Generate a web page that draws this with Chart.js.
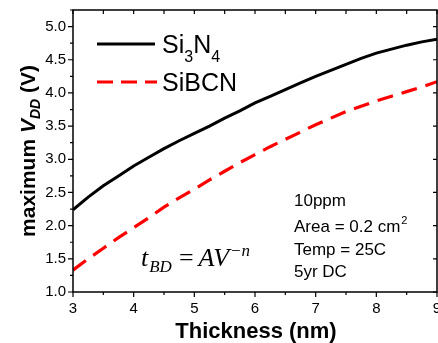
<!DOCTYPE html>
<html>
<head>
<meta charset="utf-8">
<script src="https://cdn.jsdelivr.net/npm/chart.js@4.4.1/dist/chart.umd.min.js"></script>
<style>
    html, body { margin: 0; padding: 0; background: #fff; }
    #wrap { width: 438px; height: 343px; }
</style>
</head>
<body>
<div id="wrap"><canvas id="vddChart" width="438" height="343"></canvas></div>
<script>
// Espesor (nm) y tensión máxima
const thickness = [3.0, 3.25, 3.5, 3.75, 4.0, 4.25, 4.5, 4.75, 5.0, 5.25, 5.5, 5.75, 6.0,
    6.25, 6.5, 6.75, 7.0, 7.25, 7.5, 7.75, 8.0, 8.25, 8.5, 8.75, 9.0];
const vddSi3N4 = [2.24, 2.43, 2.60, 2.75, 2.90, 3.03, 3.16, 3.28, 3.39, 3.50, 3.62, 3.73, 3.85,
    3.95, 4.05, 4.15, 4.25, 4.34, 4.43, 4.52, 4.60, 4.66, 4.72, 4.77, 4.81];
const vddSiBCN = [1.33, 1.50, 1.66, 1.82, 1.97, 2.12, 2.28, 2.42, 2.55, 2.69, 2.82, 2.95, 3.07,
    3.19, 3.30, 3.41, 3.52, 3.62, 3.72, 3.80, 3.88, 3.95, 4.02, 4.09, 4.17];

const xTicks = [3, 4, 5, 6, 7, 8, 9];
const xMinorTicks = [3.5, 4.5, 5.5, 6.5, 7.5, 8.5];
const yTicks = [1.0, 1.5, 2.0, 2.5, 3.0, 3.5, 4.0, 4.5, 5.0];
const yMinorTicks = [1.25, 1.75, 2.25, 2.75, 3.25, 3.75, 4.25, 4.75, 5.25];

const SANS = '"Liberation Sans", Arial, sans-serif';
const SERIF = '"Liberation Serif", "Times New Roman", serif';

function toPoints(xs, ys) {
    return xs.map((x, i) => ({ x: x, y: ys[i] }));
}

// Marco, marcas de los ejes y textos
const framePlugin = {
    id: 'frame',
    afterDraw(chart) {
        const ctx = chart.ctx;
        const area = chart.chartArea;
        const xs = chart.scales.x;
        const ys = chart.scales.y;

        ctx.save();
        ctx.strokeStyle = '#000';
        ctx.lineWidth = 1.5;
        ctx.strokeRect(area.left, area.top, area.right - area.left, area.bottom - area.top);

        ctx.lineWidth = 1.2;
        ctx.beginPath();
        xTicks.forEach(v => {
            const px = xs.getPixelForValue(v);
            ctx.moveTo(px, area.bottom); ctx.lineTo(px, area.bottom + 5);
        });
        xMinorTicks.forEach(v => {
            const px = xs.getPixelForValue(v);
            ctx.moveTo(px, area.bottom); ctx.lineTo(px, area.bottom + 3);
        });
        xTicks.concat(xMinorTicks).forEach(v => {
            const px = xs.getPixelForValue(v);
            ctx.moveTo(px, area.top); ctx.lineTo(px, area.top + 4);
        });
        yTicks.forEach(v => {
            const py = ys.getPixelForValue(v);
            ctx.moveTo(area.left, py); ctx.lineTo(area.left - 5, py);
            ctx.moveTo(area.right, py); ctx.lineTo(area.right - 4, py);
        });
        yMinorTicks.forEach(v => {
            const py = ys.getPixelForValue(v);
            ctx.moveTo(area.left, py); ctx.lineTo(area.left - 3, py);
        });
        ctx.stroke();

        // Etiquetas de los ejes
        ctx.fillStyle = '#000';
        ctx.font = '15px ' + SANS;
        ctx.textAlign = 'center';
        ctx.textBaseline = 'alphabetic';
        xTicks.forEach(v => {
            ctx.fillText(String(v), xs.getPixelForValue(v), area.bottom + 21);
        });
        ctx.textAlign = 'right';
        ctx.textBaseline = 'middle';
        yTicks.forEach(v => {
            ctx.fillText(v.toFixed(1), area.left - 7, ys.getPixelForValue(v));
        });

        // Título eje X
        ctx.font = 'bold 22px ' + SANS;
        ctx.textAlign = 'center';
        ctx.textBaseline = 'alphabetic';
        ctx.fillText('Thickness (nm)', (area.left + area.right) / 2 + 1, 338);

        // Título eje Y (girado)
        ctx.save();
        ctx.translate(35, 151);
        ctx.rotate(-Math.PI / 2);
        const parts = [
            { t: 'maximum ', f: 'bold 21px ' + SANS, dy: 0 },
            { t: 'V', f: 'italic bold 21px ' + SANS, dy: 0 },
            { t: 'DD', f: 'italic bold 14px ' + SANS, dy: 5 },
            { t: ' (V)', f: 'bold 21px ' + SANS, dy: 0 }
        ];
        let total = 0;
        parts.forEach(p => { ctx.font = p.f; p.w = ctx.measureText(p.t).width; total += p.w; });
        let cx = -total / 2;
        ctx.textAlign = 'left';
        parts.forEach(p => { ctx.font = p.f; ctx.fillText(p.t, cx, p.dy); cx += p.w; });
        ctx.restore();

        // Leyenda
        ctx.lineWidth = 3;
        ctx.strokeStyle = '#000';
        ctx.beginPath(); ctx.moveTo(97, 44); ctx.lineTo(155, 44); ctx.stroke();
        ctx.strokeStyle = '#ff0000';
        ctx.setLineDash([16, 8]);
        ctx.beginPath(); ctx.moveTo(97, 82); ctx.lineTo(157, 82); ctx.stroke();
        ctx.setLineDash([]);

        ctx.textAlign = 'left';
        let lx = 162;
        const legendParts = [
            { t: 'Si', f: '25px ' + SANS, y: 53 },
            { t: '3', f: '16px ' + SANS, y: 62 },
            { t: 'N', f: '25px ' + SANS, y: 53 },
            { t: '4', f: '16px ' + SANS, y: 62 }
        ];
        legendParts.forEach(p => {
            ctx.font = p.f; ctx.fillText(p.t, lx, p.y); lx += ctx.measureText(p.t).width;
        });
        ctx.font = '25px ' + SANS;
        ctx.fillText('SiBCN', 162, 91);

        // Condiciones
        ctx.font = '17px ' + SANS;
        ctx.fillText('10ppm', 294, 206);
        ctx.fillText('Area = 0.2 cm', 294, 232);
        const aw = ctx.measureText('Area = 0.2 cm').width;
        ctx.font = '11px ' + SANS;
        ctx.fillText('2', 294 + aw + 1, 224);
        ctx.font = '17px ' + SANS;
        ctx.fillText('Temp = 25C', 294, 255);
        ctx.fillText('5yr DC', 294, 277);

        // Fórmula t_BD = A V^-n
        let fx = 141;
        ctx.font = 'italic 26px ' + SERIF;
        ctx.fillText('t', fx, 266); fx += ctx.measureText('t').width + 1;
        ctx.font = 'italic 17px ' + SERIF;
        ctx.fillText('BD', fx, 272); fx += ctx.measureText('BD').width + 7;
        ctx.font = '26px ' + SERIF;
        ctx.fillText('=', fx, 266); fx += ctx.measureText('=').width + 5;
        ctx.font = 'italic 26px ' + SERIF;
        ctx.fillText('AV', fx, 266); fx += ctx.measureText('AV').width + 1;
        ctx.font = 'italic 17px ' + SERIF;
        ctx.fillText('\u2212n', fx, 256);

        ctx.restore();
    }
};

function initializeChart() {
    const ctx = document.getElementById('vddChart');

    new Chart(ctx, {
        type: 'line',
        data: {
            datasets: [
                {
                    label: 'Si3N4',
                    data: toPoints(thickness, vddSi3N4),
                    borderColor: '#000000',
                    borderWidth: 3,
                    pointRadius: 0,
                    tension: 0
                },
                {
                    label: 'SiBCN',
                    data: toPoints(thickness, vddSiBCN),
                    borderColor: '#ff0000',
                    borderWidth: 3.2,
                    borderDash: [16, 9],
                    pointRadius: 0,
                    tension: 0
                }
            ]
        },
        options: {
            responsive: false,
            animation: false,
            layout: {
                padding: { top: 10, right: 1, left: 0, bottom: 0 }
            },
            plugins: {
                legend: { display: false },
                tooltip: { enabled: false }
            },
            scales: {
                x: {
                    type: 'linear',
                    min: 3,
                    max: 9,
                    grid: { display: false },
                    border: { display: false },
                    ticks: { display: false },
                    afterFit: function(scale) { scale.height = 51; }
                },
                y: {
                    type: 'linear',
                    min: 1,
                    max: 5.25,
                    grid: { display: false },
                    border: { display: false },
                    ticks: { display: false },
                    afterFit: function(scale) { scale.width = 73; }
                }
            }
        },
        plugins: [framePlugin]
    });
}

initializeChart();
</script>
</body>
</html>
